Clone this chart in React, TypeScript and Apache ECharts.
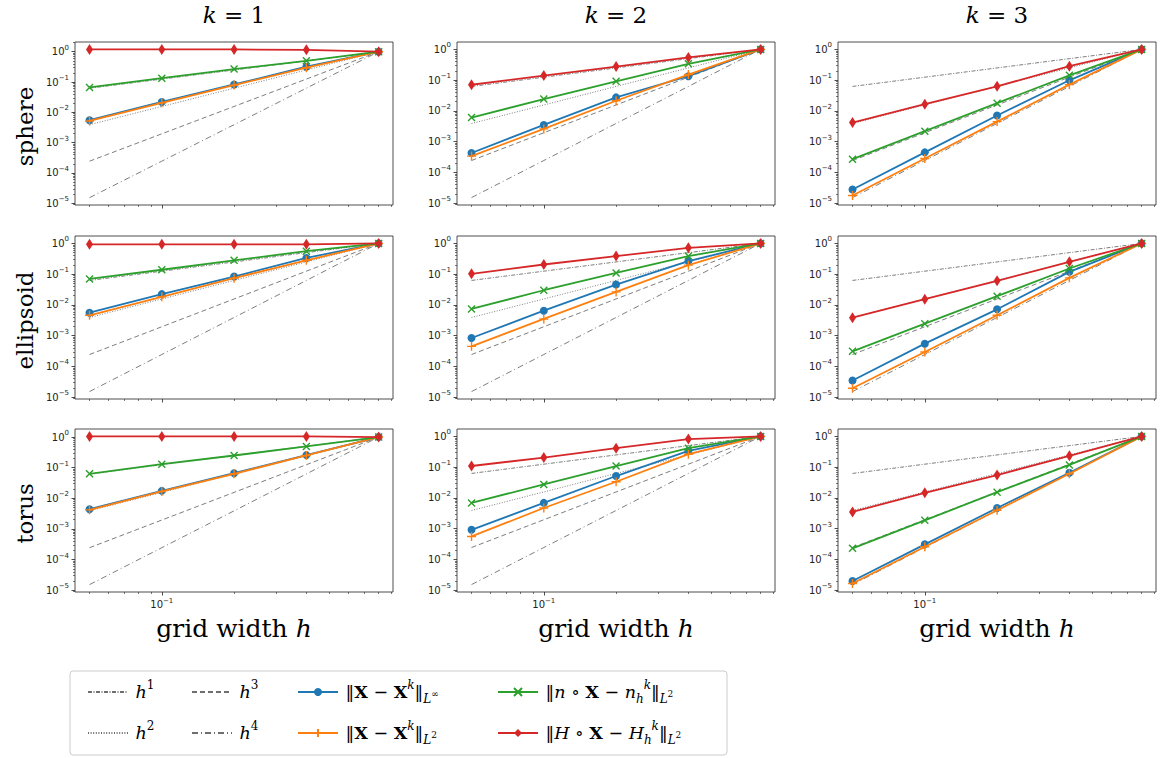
import React, { useEffect, useRef } from "react";
import * as echarts from "echarts";

// ---------- data ----------
const H_VALUES = [0.05, 0.1, 0.2, 0.4, 0.8];

const REF_H1 = [0.0625, 0.125, 0.25, 0.5, 1];
const REF_H2 = [0.00390625, 0.015625, 0.0625, 0.25, 1];
const REF_H3 = [0.000244140625, 0.001953125, 0.015625, 0.125, 1];
const REF_H4 = [0.0000152587890625, 0.000244140625, 0.00390625, 0.0625, 1];

const SPHERE_K1_LINF = [0.0055, 0.022, 0.083, 0.32, 1];
const SPHERE_K1_L2 = [0.0052, 0.0205, 0.079, 0.296, 1];
const SPHERE_K1_N = [0.066, 0.134, 0.267, 0.5, 1];
const SPHERE_K1_H = [1.19, 1.19, 1.19, 1.15, 1];

const SPHERE_K2_LINF = [0.00043, 0.0035, 0.0275, 0.134, 1];
const SPHERE_K2_L2 = [0.00034, 0.0026, 0.0214, 0.152, 1];
const SPHERE_K2_N = [0.0061, 0.0242, 0.092, 0.34, 1];
const SPHERE_K2_H = [0.071, 0.141, 0.277, 0.547, 1];

const SPHERE_K3_LINF = [0.000028, 0.00045, 0.0071, 0.099, 1];
const SPHERE_K3_L2 = [0.0000178, 0.000283, 0.0045, 0.0714, 1];
const SPHERE_K3_N = [0.00027, 0.0022, 0.0179, 0.144, 1];
const SPHERE_K3_H = [0.0042, 0.0166, 0.063, 0.284, 1];

const ELLIPSOID_K1_LINF = [0.0056, 0.0225, 0.0838, 0.337, 1];
const ELLIPSOID_K1_L2 = [0.0046, 0.0184, 0.074, 0.282, 1];
const ELLIPSOID_K1_N = [0.07, 0.139, 0.282, 0.558, 1];
const ELLIPSOID_K1_H = [0.93, 0.93, 0.93, 0.93, 1];

const ELLIPSOID_K2_LINF = [0.00084, 0.0065, 0.046, 0.265, 1];
const ELLIPSOID_K2_L2 = [0.00045, 0.0035, 0.0265, 0.196, 1];
const ELLIPSOID_K2_N = [0.0074, 0.03, 0.11, 0.386, 1];
const ELLIPSOID_K2_H = [0.103, 0.206, 0.386, 0.72, 1];

const ELLIPSOID_K3_LINF = [0.000035, 0.00055, 0.0072, 0.119, 1];
const ELLIPSOID_K3_L2 = [0.0000196, 0.000294, 0.0046, 0.076, 1];
const ELLIPSOID_K3_N = [0.00031, 0.00246, 0.0192, 0.153, 1];
const ELLIPSOID_K3_H = [0.00386, 0.0153, 0.0606, 0.252, 1];

const TORUS_K1_LINF = [0.0044, 0.0175, 0.066, 0.257, 1];
const TORUS_K1_L2 = [0.0042, 0.0167, 0.063, 0.25, 1];
const TORUS_K1_N = [0.063, 0.13, 0.25, 0.494, 1];
const TORUS_K1_H = [1.05, 1.05, 1.05, 1.05, 1];

const TORUS_K2_LINF = [0.00092, 0.0069, 0.0515, 0.34, 1];
const TORUS_K2_L2 = [0.00056, 0.0047, 0.0336, 0.264, 1];
const TORUS_K2_N = [0.0069, 0.0275, 0.109, 0.415, 1];
const TORUS_K2_H = [0.109, 0.205, 0.415, 0.818, 1];

const TORUS_K3_LINF = [0.00002, 0.00031, 0.0047, 0.066, 1];
const TORUS_K3_L2 = [0.0000165, 0.00026, 0.00397, 0.061, 1];
const TORUS_K3_N = [0.00023, 0.00187, 0.0154, 0.118, 1];
const TORUS_K3_H = [0.0035, 0.0147, 0.0555, 0.233, 1];

const ROW_LABELS = ["sphere", "ellipsoid", "torus"];
const COLUMN_K = ["1", "2", "3"];

const X_MAJOR_TICKS = [0.1];
const X_MINOR_TICKS = [0.05, 0.06, 0.07, 0.08, 0.09, 0.2, 0.3, 0.4, 0.5, 0.6, 0.7, 0.8, 0.9];
const Y_MAJOR_TICKS = [1e-5, 1e-4, 1e-3, 1e-2, 1e-1, 1];
const Y_MINOR_DECADES = [1e-6, 1e-5, 1e-4, 1e-3, 1e-2, 1e-1, 1];
const Y_MINOR_MULTS = [2, 3, 4, 5, 6, 7, 8, 9];

const X_MIN = 0.0435;
const X_MAX = 0.918;
const Y_MIN = 8.75e-6;
const Y_MAX = [
  [2.09, 1.74, 1.74],
  [1.74, 1.74, 1.74],
  [1.83, 1.74, 1.74],
];

const PLOT_DATA = [
  [
    [SPHERE_K1_LINF, SPHERE_K1_L2, SPHERE_K1_N, SPHERE_K1_H],
    [SPHERE_K2_LINF, SPHERE_K2_L2, SPHERE_K2_N, SPHERE_K2_H],
    [SPHERE_K3_LINF, SPHERE_K3_L2, SPHERE_K3_N, SPHERE_K3_H],
  ],
  [
    [ELLIPSOID_K1_LINF, ELLIPSOID_K1_L2, ELLIPSOID_K1_N, ELLIPSOID_K1_H],
    [ELLIPSOID_K2_LINF, ELLIPSOID_K2_L2, ELLIPSOID_K2_N, ELLIPSOID_K2_H],
    [ELLIPSOID_K3_LINF, ELLIPSOID_K3_L2, ELLIPSOID_K3_N, ELLIPSOID_K3_H],
  ],
  [
    [TORUS_K1_LINF, TORUS_K1_L2, TORUS_K1_N, TORUS_K1_H],
    [TORUS_K2_LINF, TORUS_K2_L2, TORUS_K2_N, TORUS_K2_H],
    [TORUS_K3_LINF, TORUS_K3_L2, TORUS_K3_N, TORUS_K3_H],
  ],
];
const REF_DATA = [REF_H1, REF_H2, REF_H3, REF_H4];

// ---------- styles ----------
const SERIF = '"DejaVu Serif", serif';
const SANS = '"DejaVu Sans", sans-serif';
const BLUE = "#1f77b4";
const ORANGE = "#ff7f0e";
const GREEN = "#2ca02c";
const RED = "#d62728";
const GRAY = "#555555";

const LEFTS = [75, 457, 838];
const TOPS = [42, 236, 429];
const PW = 318;
const PH = 163;

const REF_NAMES = ["h1", "h2", "h3", "h4"];
const REF_DASH = [
  [4, 1.5, 1, 1.5],
  [1, 1.6],
  [5, 3],
  [6, 3, 1, 3],
];
const ERR_NAMES = ["linf", "l2", "n", "H"];
const ERR_COLORS = [BLUE, ORANGE, GREEN, RED];
const PLUS = "path://M5,0L5,10M0,5L10,5";
const CROSS = "path://M0,0L10,10M10,0L0,10";
const ERR_SYMBOLS = ["circle", PLUS, CROSS, "diamond"];
const ERR_SIZES: any[] = [8, 9, 7, [7, 11]];

const LEGEND_TEXT: Record<string, string> = {
  h1: "{g| }{i|h}{supr|1}",
  h2: "{g| }{i|h}{supr|2}",
  h3: "{g| }{i|h}{supr|3}",
  h4: "{g| }{i|h}{supr|4}",
  linf: "{g| }{r|‖}{b|X}{r| − }{b|X}{sup|k}{r|‖}{sub|L}{ss|∞}",
  l2: "{g| }{r|‖}{b|X}{r| − }{b|X}{sup|k}{r|‖}{sub|L}{ss|2}",
  n: "{g| }{r|‖}{i|n}{r| ∘ }{b|X}{r| − }{i|n}{sub|h}{sup|k}{r|‖}{sub|L}{ss|2}",
  H: "{g| }{r|‖}{i|H}{r| ∘ }{b|X}{r| − }{i|H}{sub|h}{sup|k}{r|‖}{sub|L}{ss|2}",
};
const LEGEND_POS: Record<string, [number, number]> = {
  h1: [87, 692],
  h2: [87, 733],
  h3: [191, 692],
  h4: [191, 733],
  linf: [297, 692],
  l2: [297, 733],
  n: [497, 692],
  H: [497, 733],
};

function powLabel(v: number) {
  const e = Math.round(Math.log10(v));
  const s = e < 0 ? "−" + -e : String(e);
  return "10{sup|" + s + "}";
}

const TICK_RICH = {
  sup: { fontSize: 7, lineHeight: 8, verticalAlign: "top", fontFamily: SANS, color: "#222" },
};

function buildOption() {
  const yMinor: number[] = [];
  Y_MINOR_DECADES.forEach((d) => Y_MINOR_MULTS.forEach((m) => yMinor.push(m * d)));

  const grid: any[] = [];
  const xAxis: any[] = [];
  const yAxis: any[] = [];
  const series: any[] = [];
  const title: any[] = [];
  const legend: any[] = [];
  const graphic: any[] = [];

  for (let r = 0; r < 3; r++) {
    for (let c = 0; c < 3; c++) {
      const gi = r * 3 + c;
      grid.push({
        left: LEFTS[c],
        top: TOPS[r],
        width: PW,
        height: PH,
        show: true,
        borderColor: "#222",
        borderWidth: 0.8,
        backgroundColor: "#fff",
        containLabel: false,
        outerBoundsMode: "none",
      });
      const xCommon = {
        type: "log",
        logBase: 10,
        gridIndex: gi,
        min: X_MIN,
        max: X_MAX,
        position: "bottom",
        axisLine: { show: false },
        splitLine: { show: false },
      };
      xAxis.push({
        ...xCommon,
        axisTick: { show: true, length: 3.5, customValues: X_MAJOR_TICKS, lineStyle: { color: "#222", width: 0.8 } },
        axisLabel: {
          show: r === 2,
          customValues: X_MAJOR_TICKS,
          formatter: (v: number) => powLabel(v),
          fontFamily: SANS,
          fontSize: 10,
          lineHeight: 15,
          color: "#222",
          margin: 5,
          rich: TICK_RICH,
        },
        name: r === 2 ? "{r|grid width }{i|h}" : "",
        nameLocation: "middle",
        nameGap: 24,
        nameTextStyle: {
          rich: {
            r: { fontFamily: SERIF, fontSize: 25, color: "#000" },
            i: { fontFamily: SERIF, fontSize: 25, fontStyle: "italic", color: "#000" },
          },
        },
      });
      xAxis.push({
        ...xCommon,
        axisTick: { show: true, length: 2, customValues: X_MINOR_TICKS, lineStyle: { color: "#222", width: 0.6 } },
        axisLabel: { show: false },
      });
      const yCommon = {
        type: "log",
        logBase: 10,
        gridIndex: gi,
        min: Y_MIN,
        max: Y_MAX[r][c],
        position: "left",
        axisLine: { show: false },
        splitLine: { show: false },
      };
      yAxis.push({
        ...yCommon,
        axisTick: { show: true, length: 3.5, customValues: Y_MAJOR_TICKS, lineStyle: { color: "#222", width: 0.8 } },
        axisLabel: {
          show: true,
          customValues: Y_MAJOR_TICKS,
          formatter: (v: number) => powLabel(v),
          fontFamily: SANS,
          fontSize: 10,
          lineHeight: 15,
          color: "#222",
          margin: 6,
          rich: TICK_RICH,
        },
      });
      yAxis.push({
        ...yCommon,
        axisTick: { show: true, length: 2, customValues: yMinor, lineStyle: { color: "#222", width: 0.6 } },
        axisLabel: { show: false },
      });

      REF_DATA.forEach((vals, k) => {
        series.push({
          type: "line",
          name: REF_NAMES[k],
          xAxisIndex: gi * 2,
          yAxisIndex: gi * 2,
          data: H_VALUES.map((h, i) => [h, vals[i]]),
          symbol: "none",
          silent: true,
          lineStyle: { color: GRAY, width: 0.9, type: REF_DASH[k], opacity: 0.85 },
          itemStyle: { color: GRAY },
          z: 2,
        });
      });
      PLOT_DATA[r][c].forEach((vals, k) => {
        const col = ERR_COLORS[k];
        series.push({
          type: "line",
          name: ERR_NAMES[k],
          xAxisIndex: gi * 2,
          yAxisIndex: gi * 2,
          data: H_VALUES.map((h, i) => [h, vals[i]]),
          symbol: ERR_SYMBOLS[k],
          symbolSize: ERR_SIZES[k],
          showSymbol: true,
          silent: true,
          lineStyle: { color: col, width: 1.8 },
          itemStyle: { color: col, borderColor: col, borderWidth: k === 1 || k === 2 ? 1.4 : 0 },
          z: 3 + k,
        });
      });
    }
  }

  COLUMN_K.forEach((k, c) => {
    title.push({
      text: "{i|k}{r| = " + k + "}",
      left: LEFTS[c] + PW / 2,
      top: 3,
      textAlign: "center",
      padding: 0,
      textStyle: {
        fontWeight: "normal",
        rich: {
          i: { fontFamily: SERIF, fontSize: 23, fontStyle: "italic", fontWeight: "normal", color: "#000" },
          r: { fontFamily: SERIF, fontSize: 23, fontWeight: "normal", color: "#000" },
        },
      },
    });
  });

  ROW_LABELS.forEach((lab, r) => {
    graphic.push({
      type: "text",
      x: 25,
      y: TOPS[r] + PH / 2 + 3,
      rotation: Math.PI / 2,
      style: {
        text: lab,
        font: '23px "DejaVu Serif", serif',
        fill: "#000",
        textAlign: "center",
        textVerticalAlign: "middle",
      },
    });
  });

  graphic.push({
    type: "rect",
    shape: { x: 70, y: 671, width: 657, height: 84, r: 3 },
    style: { fill: "#fff", stroke: "#cccccc", lineWidth: 1 },
    z: -1,
  });

  const FS = 17.5;
  const legendRich = {
    g: { fontSize: 8, lineHeight: 26, color: "#000" },
    r: { fontFamily: SERIF, fontSize: FS, lineHeight: 26, color: "#000" },
    i: { fontFamily: SERIF, fontSize: FS, lineHeight: 26, fontStyle: "italic", color: "#000" },
    b: { fontFamily: SERIF, fontSize: FS, lineHeight: 26, fontWeight: "bold", color: "#000" },
    sup: { fontFamily: SERIF, fontSize: 12, lineHeight: 12, fontStyle: "italic", verticalAlign: "top", color: "#000" },
    supr: { fontFamily: SERIF, fontSize: 12, lineHeight: 12, verticalAlign: "top", color: "#000" },
    sub: { fontFamily: SERIF, fontSize: 12, lineHeight: 12, fontStyle: "italic", verticalAlign: "bottom", color: "#000" },
    ss: { fontFamily: SERIF, fontSize: 9, lineHeight: 9, verticalAlign: "bottom", padding: [0, 0, 7, 0], color: "#000" },
  };
  [...REF_NAMES, ...ERR_NAMES].forEach((name) => {
    const [lx, ly] = LEGEND_POS[name];
    const isRef = REF_NAMES.indexOf(name) >= 0;
    legend.push({
      data: [isRef ? { name, itemStyle: { opacity: 0 } } : { name }],
      left: lx,
      top: ly - 13,
      padding: 0,
      itemGap: 0,
      itemWidth: 40,
      itemHeight: 10,
      selectedMode: false,
      formatter: (n: string) => LEGEND_TEXT[n],
      textStyle: { fontFamily: SERIF, fontSize: FS, color: "#000", rich: legendRich },
    });
  });

  return {
    animation: false,
    backgroundColor: "#fff",
    title,
    legend,
    grid,
    xAxis,
    yAxis,
    series,
    graphic,
  };
}

export default function App() {
  const ref = useRef<HTMLDivElement>(null);
  useEffect(() => {
    document.body.style.margin = "0";
    if (!ref.current) return;
    const chart = echarts.init(ref.current, undefined, { renderer: "svg" });
    chart.setOption(buildOption() as any);
    return () => chart.dispose();
  }, []);
  return <div ref={ref} style={{ width: 1162, height: 758, background: "#fff" }} />;
}
